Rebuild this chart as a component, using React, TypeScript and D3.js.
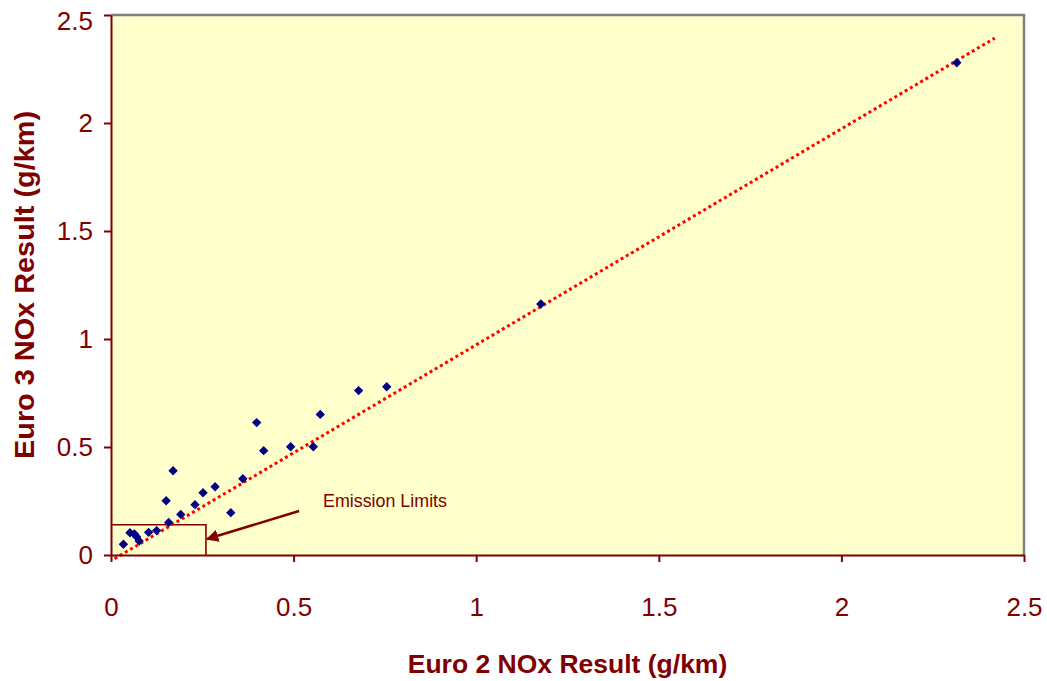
import React, { useEffect, useRef } from 'react';
import * as d3 from 'd3';

// Euro 2 result (x) and Euro 3 result (y), g/km
const euro2 = [2.316, 1.177, 0.755, 0.678, 0.573, 0.399, 0.418, 0.492, 0.554, 0.361, 0.285, 0.252, 0.23,
  0.328, 0.17, 0.151, 0.191, 0.158, 0.125, 0.103, 0.077, 0.07, 0.064, 0.052, 0.034];
const euro3 = [2.279, 1.162, 0.779, 0.761, 0.651, 0.613, 0.483, 0.501, 0.501, 0.353, 0.316, 0.288, 0.233,
  0.196, 0.39, 0.251, 0.188, 0.151, 0.113, 0.105, 0.065, 0.085, 0.097, 0.103, 0.05];

const xTicks = [0, 0.5, 1, 1.5, 2, 2.5];
const yTicks = [0, 0.5, 1, 1.5, 2, 2.5];

// linear trendline (slope, intercept) and the x range it is drawn over
const trendSlope = 1.0;
const trendIntercept = -0.027;
const trendRange = [0.01, 2.42];

// emission limits box corner and the arrow pointing at it
const limitBox = [0.26, 0.14];
const arrowFrom = [0.515, 0.204];
const arrowTo = [0.263, 0.074];

const RED = '#800000';
const FONT = '"Liberation Sans", Arial, sans-serif';

const App = () => {
  const ref = useRef(null);

  useEffect(() => {
    const width = 1047;
    const height = 681;
    const margin = { top: 15, right: 23, bottom: 126, left: 111 };

    const x = d3.scaleLinear().domain([0, 2.5]).range([margin.left, width - margin.right]);
    const y = d3.scaleLinear().domain([0, 2.5]).range([height - margin.bottom, margin.top]);

    const svg = d3.select(ref.current);
    svg.selectAll('*').remove();

    // plot area
    svg.append('rect')
      .attr('x', x(0)).attr('y', y(2.5))
      .attr('width', x(2.5) - x(0)).attr('height', y(0) - y(2.5))
      .attr('fill', '#FFFFCC');
    svg.append('path')
      .attr('d', `M${x(0)},${y(2.5)}H${x(2.5)}V${y(0)}`)
      .attr('fill', 'none').attr('stroke', '#808080').attr('stroke-width', 2.5);

    // emission limits box
    svg.append('path')
      .attr('d', `M${x(0)},${y(limitBox[1])}H${x(limitBox[0])}V${y(0)}`)
      .attr('fill', 'none').attr('stroke', RED).attr('stroke-width', 1.6);

    // trendline
    const trend = d3.line()
      .x((d) => x(d))
      .y((d) => y(trendSlope * d + trendIntercept));
    svg.append('path')
      .datum(trendRange)
      .attr('d', trend)
      .attr('fill', 'none')
      .attr('stroke', '#FF0000')
      .attr('stroke-width', 3)
      .attr('stroke-dasharray', '3,3');

    // points
    const diamond = d3.symbol().type(d3.symbolSquare).size(44);
    svg.append('g')
      .selectAll('path')
      .data(euro2.map((d, i) => [d, euro3[i]]))
      .join('path')
      .attr('d', diamond)
      .attr('transform', (d) => `translate(${x(d[0])},${y(d[1])}) rotate(45)`)
      .attr('fill', '#000080');

    // axes
    const xAxis = d3.axisBottom(x).tickValues(xTicks).tickSize(7).tickSizeOuter(0).tickPadding(36)
      .tickFormat((d) => String(d));
    const yAxis = d3.axisLeft(y).tickValues(yTicks).tickSize(7).tickSizeOuter(0).tickPadding(11)
      .tickFormat((d) => String(d));

    const gx = svg.append('g').attr('transform', `translate(0,${y(0)})`).call(xAxis);
    const gy = svg.append('g').attr('transform', `translate(${x(0)},0)`).call(yAxis);

    [gx, gy].forEach((g) => {
      g.select('.domain').attr('stroke', RED).attr('stroke-width', 2);
      g.selectAll('.tick line').attr('stroke', RED).attr('stroke-width', 2);
      g.selectAll('.tick text')
        .attr('fill', RED)
        .style('font-family', FONT)
        .style('font-size', '26px');
    });
    // top label sits a bit lower so it is not clipped
    gy.selectAll('.tick text').filter((d) => d === 2.5).attr('dy', '0.55em');

    // arrow
    svg.append('defs').append('marker')
      .attr('id', 'arrowhead')
      .attr('viewBox', '0 0 10 10')
      .attr('refX', 9).attr('refY', 5)
      .attr('markerWidth', 5).attr('markerHeight', 5)
      .attr('markerUnits', 'strokeWidth')
      .attr('orient', 'auto')
      .append('path')
      .attr('d', 'M0,0L10,5L0,10z')
      .attr('fill', RED);
    svg.append('line')
      .attr('x1', x(arrowFrom[0])).attr('y1', y(arrowFrom[1]))
      .attr('x2', x(arrowTo[0])).attr('y2', y(arrowTo[1]))
      .attr('stroke', RED).attr('stroke-width', 2.5)
      .attr('marker-end', 'url(#arrowhead)');

    svg.append('text')
      .attr('x', 323).attr('y', 506.5)
      .attr('textLength', 124).attr('lengthAdjust', 'spacingAndGlyphs')
      .style('font-family', FONT).style('font-size', '19px')
      .attr('fill', RED)
      .text('Emission Limits');

    // axis titles
    svg.append('text')
      .attr('x', (x(0) + x(2.5)) / 2).attr('y', 673)
      .attr('text-anchor', 'middle')
      .style('font-family', FONT).style('font-size', '26.5px').style('font-weight', 'bold')
      .attr('fill', RED)
      .text('Euro 2 NOx Result (g/km)');

    svg.append('text')
      .attr('transform', `translate(34,${(y(0) + y(2.5)) / 2}) rotate(-90)`)
      .attr('text-anchor', 'middle')
      .attr('textLength', 348).attr('lengthAdjust', 'spacingAndGlyphs')
      .style('font-family', FONT).style('font-size', '28px').style('font-weight', 'bold')
      .attr('fill', RED)
      .text('Euro 3 NOx Result (g/km)');
  }, []);

  return (
    <svg ref={ref} width={1047} height={681}
      style={{ position: 'absolute', left: 0, top: 0, background: '#fff' }} />
  );
};

export default App;
